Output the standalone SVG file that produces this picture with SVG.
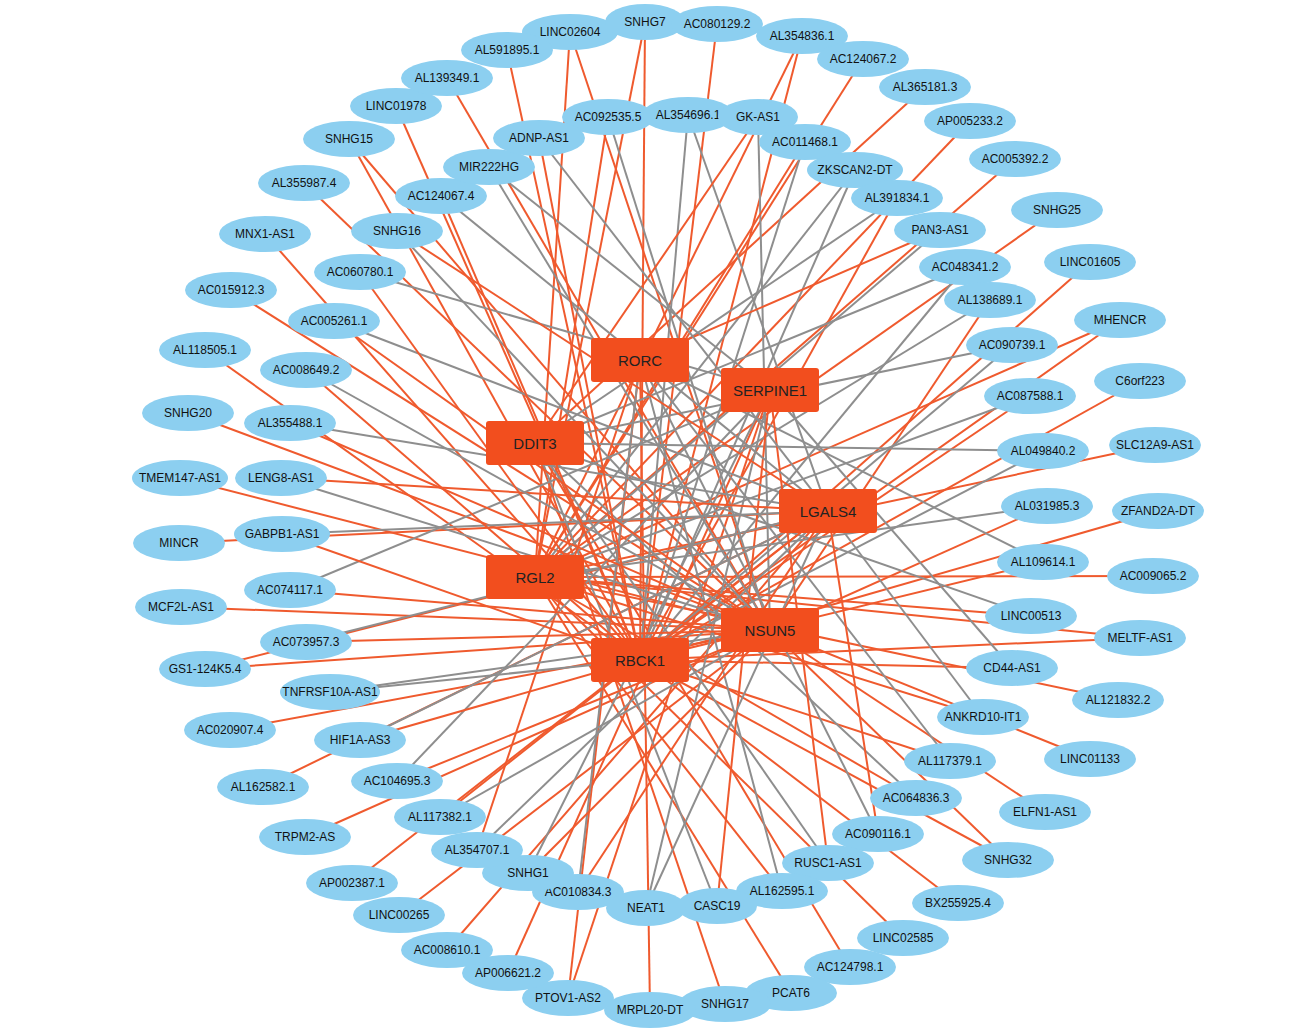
<svg xmlns="http://www.w3.org/2000/svg" width="1293" height="1035" viewBox="0 0 1293 1035">
<style>
.r{stroke:#ef5a2e;stroke-width:2}
.g{stroke:#8e8e8e;stroke-width:2}
.n ellipse{fill:#8ccff0}
.h rect{fill:#f24e1e}
text{font-family:"Liberation Sans",Arial,sans-serif;font-size:12px;fill:#111;text-anchor:middle;dominant-baseline:central}
.h text{font-size:15px;fill:#222}
</style>
<rect width="1293" height="1035" fill="#fff"/>
<g id="edges">
<line class="r" x1="570" y1="32" x2="535" y2="577"/><line class="r" x1="570" y1="32" x2="770" y2="630"/>
<line class="r" x1="645" y1="22" x2="640" y2="660"/><line class="r" x1="645" y1="22" x2="535" y2="577"/>
<line class="r" x1="717" y1="24" x2="640" y2="660"/>
<line class="r" x1="802" y1="36" x2="535" y2="577"/><line class="r" x1="802" y1="36" x2="640" y2="660"/>
<line class="r" x1="863" y1="59" x2="535" y2="577"/>
<line class="r" x1="925" y1="87" x2="535" y2="443"/>
<line class="r" x1="970" y1="121" x2="535" y2="577"/>
<line class="r" x1="1015" y1="159" x2="535" y2="577"/>
<line class="r" x1="1057" y1="210" x2="535" y2="577"/>
<line class="r" x1="1090" y1="262" x2="640" y2="660"/>
<line class="r" x1="1120" y1="320" x2="640" y2="660"/><line class="r" x1="1120" y1="320" x2="535" y2="577"/>
<line class="r" x1="1140" y1="381" x2="640" y2="660"/>
<line class="r" x1="1155" y1="445" x2="535" y2="577"/>
<line class="r" x1="1158" y1="511" x2="640" y2="660"/>
<line class="r" x1="1153" y1="576" x2="535" y2="577"/>
<line class="r" x1="1140" y1="638" x2="640" y2="660"/><line class="r" x1="1140" y1="638" x2="535" y2="577"/>
<line class="r" x1="1118" y1="700" x2="535" y2="577"/>
<line class="r" x1="1090" y1="759" x2="770" y2="630"/>
<line class="r" x1="1045" y1="812" x2="770" y2="630"/>
<line class="r" x1="1008" y1="860" x2="770" y2="630"/><line class="r" x1="1008" y1="860" x2="640" y2="660"/>
<line class="r" x1="958" y1="903" x2="640" y2="660"/>
<line class="r" x1="903" y1="938" x2="535" y2="577"/>
<line class="r" x1="850" y1="967" x2="535" y2="443"/>
<line class="r" x1="791" y1="993" x2="535" y2="577"/>
<line class="r" x1="725" y1="1004" x2="535" y2="443"/>
<line class="r" x1="650" y1="1010" x2="640" y2="360"/>
<line class="r" x1="568" y1="998" x2="770" y2="390"/><line class="r" x1="568" y1="998" x2="640" y2="360"/>
<line class="r" x1="508" y1="973" x2="770" y2="390"/>
<line class="r" x1="447" y1="950" x2="828" y2="511"/>
<line class="r" x1="399" y1="915" x2="770" y2="630"/>
<line class="r" x1="352" y1="883" x2="828" y2="511"/>
<line class="r" x1="305" y1="837" x2="770" y2="630"/>
<line class="r" x1="263" y1="787" x2="828" y2="511"/>
<line class="r" x1="230" y1="730" x2="770" y2="630"/>
<line class="r" x1="205" y1="669" x2="770" y2="630"/><line class="r" x1="205" y1="669" x2="828" y2="511"/>
<line class="r" x1="181" y1="607" x2="770" y2="630"/>
<line class="r" x1="179" y1="543" x2="828" y2="511"/>
<line class="r" x1="180" y1="478" x2="770" y2="630"/>
<line class="r" x1="188" y1="413" x2="770" y2="630"/>
<line class="r" x1="205" y1="350" x2="640" y2="660"/>
<line class="r" x1="231" y1="290" x2="770" y2="630"/>
<line class="r" x1="265" y1="234" x2="640" y2="660"/>
<line class="r" x1="304" y1="183" x2="770" y2="630"/>
<line class="r" x1="349" y1="139" x2="640" y2="660"/><line class="r" x1="349" y1="139" x2="770" y2="630"/>
<line class="r" x1="396" y1="106" x2="640" y2="660"/>
<line class="r" x1="447" y1="78" x2="770" y2="630"/>
<line class="r" x1="507" y1="50" x2="640" y2="660"/>
<line class="g" x1="608" y1="117" x2="770" y2="630"/><line class="r" x1="608" y1="117" x2="535" y2="577"/>
<line class="g" x1="688" y1="115" x2="640" y2="660"/><line class="g" x1="688" y1="115" x2="828" y2="511"/>
<line class="g" x1="758" y1="117" x2="770" y2="630"/><line class="r" x1="758" y1="117" x2="535" y2="443"/>
<line class="g" x1="805" y1="142" x2="640" y2="660"/><line class="r" x1="805" y1="142" x2="535" y2="577"/>
<line class="g" x1="855" y1="170" x2="535" y2="577"/><line class="g" x1="855" y1="170" x2="640" y2="660"/>
<line class="r" x1="897" y1="198" x2="640" y2="660"/><line class="g" x1="897" y1="198" x2="535" y2="443"/>
<line class="g" x1="940" y1="230" x2="535" y2="577"/><line class="r" x1="940" y1="230" x2="640" y2="360"/>
<line class="g" x1="965" y1="267" x2="640" y2="660"/><line class="g" x1="965" y1="267" x2="535" y2="443"/>
<line class="g" x1="990" y1="300" x2="535" y2="577"/><line class="r" x1="990" y1="300" x2="770" y2="630"/>
<line class="g" x1="1012" y1="345" x2="640" y2="660"/><line class="g" x1="1012" y1="345" x2="535" y2="443"/>
<line class="g" x1="1030" y1="396" x2="535" y2="577"/><line class="r" x1="1030" y1="396" x2="640" y2="660"/>
<line class="g" x1="1043" y1="451" x2="535" y2="443"/><line class="g" x1="1043" y1="451" x2="640" y2="660"/>
<line class="g" x1="1047" y1="506" x2="535" y2="577"/><line class="r" x1="1047" y1="506" x2="770" y2="630"/>
<line class="g" x1="1043" y1="562" x2="640" y2="360"/><line class="r" x1="1043" y1="562" x2="640" y2="660"/>
<line class="g" x1="1031" y1="616" x2="535" y2="443"/><line class="r" x1="1031" y1="616" x2="535" y2="577"/>
<line class="g" x1="1012" y1="668" x2="770" y2="390"/><line class="r" x1="1012" y1="668" x2="640" y2="660"/>
<line class="g" x1="983" y1="717" x2="828" y2="511"/><line class="r" x1="983" y1="717" x2="535" y2="577"/>
<line class="g" x1="950" y1="761" x2="640" y2="360"/><line class="r" x1="950" y1="761" x2="640" y2="660"/>
<line class="g" x1="916" y1="798" x2="535" y2="443"/><line class="r" x1="916" y1="798" x2="535" y2="577"/>
<line class="g" x1="878" y1="834" x2="640" y2="360"/><line class="r" x1="878" y1="834" x2="828" y2="511"/>
<line class="g" x1="828" y1="863" x2="535" y2="443"/><line class="r" x1="828" y1="863" x2="770" y2="390"/>
<line class="g" x1="782" y1="891" x2="640" y2="360"/><line class="r" x1="782" y1="891" x2="535" y2="577"/>
<line class="g" x1="717" y1="906" x2="535" y2="443"/><line class="r" x1="717" y1="906" x2="770" y2="390"/>
<line class="g" x1="646" y1="908" x2="770" y2="390"/><line class="g" x1="646" y1="908" x2="828" y2="511"/>
<line class="g" x1="578" y1="892" x2="640" y2="360"/><line class="r" x1="578" y1="892" x2="828" y2="511"/>
<line class="g" x1="528" y1="873" x2="770" y2="390"/><line class="r" x1="528" y1="873" x2="770" y2="630"/>
<line class="g" x1="477" y1="850" x2="828" y2="511"/><line class="r" x1="477" y1="850" x2="640" y2="360"/>
<line class="g" x1="440" y1="817" x2="770" y2="630"/><line class="r" x1="440" y1="817" x2="828" y2="511"/>
<line class="g" x1="397" y1="781" x2="770" y2="390"/><line class="r" x1="397" y1="781" x2="770" y2="630"/>
<line class="g" x1="360" y1="740" x2="828" y2="511"/><line class="r" x1="360" y1="740" x2="640" y2="660"/>
<line class="g" x1="330" y1="692" x2="770" y2="630"/><line class="g" x1="330" y1="692" x2="640" y2="660"/>
<line class="g" x1="306" y1="642" x2="828" y2="511"/><line class="r" x1="306" y1="642" x2="770" y2="630"/>
<line class="g" x1="290" y1="590" x2="770" y2="390"/><line class="r" x1="290" y1="590" x2="770" y2="630"/>
<line class="g" x1="282" y1="534" x2="828" y2="511"/><line class="r" x1="282" y1="534" x2="640" y2="660"/>
<line class="g" x1="281" y1="478" x2="770" y2="630"/><line class="r" x1="281" y1="478" x2="828" y2="511"/>
<line class="g" x1="290" y1="423" x2="828" y2="511"/><line class="r" x1="290" y1="423" x2="770" y2="630"/>
<line class="g" x1="306" y1="370" x2="770" y2="630"/><line class="r" x1="306" y1="370" x2="640" y2="660"/>
<line class="g" x1="334" y1="321" x2="828" y2="511"/><line class="r" x1="334" y1="321" x2="770" y2="630"/>
<line class="g" x1="360" y1="272" x2="770" y2="390"/><line class="r" x1="360" y1="272" x2="640" y2="660"/>
<line class="g" x1="397" y1="231" x2="770" y2="630"/><line class="r" x1="397" y1="231" x2="828" y2="511"/>
<line class="g" x1="441" y1="196" x2="828" y2="511"/><line class="r" x1="441" y1="196" x2="640" y2="660"/>
<line class="g" x1="489" y1="167" x2="770" y2="630"/><line class="g" x1="489" y1="167" x2="770" y2="390"/>
<line class="g" x1="539" y1="138" x2="828" y2="511"/><line class="r" x1="539" y1="138" x2="640" y2="660"/>
</g>
<g id="nodes" class="n">
<g id="n1"><ellipse cx="570" cy="32" rx="48" ry="18"/><text x="570" y="32">LINC02604</text></g>
<g id="n2"><ellipse cx="645" cy="22" rx="40" ry="18"/><text x="645" y="22">SNHG7</text></g>
<g id="n3"><ellipse cx="717" cy="24" rx="46" ry="18"/><text x="717" y="24">AC080129.2</text></g>
<g id="n4"><ellipse cx="802" cy="36" rx="46" ry="18"/><text x="802" y="36">AL354836.1</text></g>
<g id="n5"><ellipse cx="863" cy="59" rx="46" ry="18"/><text x="863" y="59">AC124067.2</text></g>
<g id="n6"><ellipse cx="925" cy="87" rx="46" ry="18"/><text x="925" y="87">AL365181.3</text></g>
<g id="n7"><ellipse cx="970" cy="121" rx="46" ry="18"/><text x="970" y="121">AP005233.2</text></g>
<g id="n8"><ellipse cx="1015" cy="159" rx="46" ry="18"/><text x="1015" y="159">AC005392.2</text></g>
<g id="n9"><ellipse cx="1057" cy="210" rx="46" ry="18"/><text x="1057" y="210">SNHG25</text></g>
<g id="n10"><ellipse cx="1090" cy="262" rx="46" ry="18"/><text x="1090" y="262">LINC01605</text></g>
<g id="n11"><ellipse cx="1120" cy="320" rx="46" ry="18"/><text x="1120" y="320">MHENCR</text></g>
<g id="n12"><ellipse cx="1140" cy="381" rx="46" ry="18"/><text x="1140" y="381">C6orf223</text></g>
<g id="n13"><ellipse cx="1155" cy="445" rx="46" ry="18"/><text x="1155" y="445">SLC12A9-AS1</text></g>
<g id="n14"><ellipse cx="1158" cy="511" rx="46" ry="18"/><text x="1158" y="511">ZFAND2A-DT</text></g>
<g id="n15"><ellipse cx="1153" cy="576" rx="46" ry="18"/><text x="1153" y="576">AC009065.2</text></g>
<g id="n16"><ellipse cx="1140" cy="638" rx="46" ry="18"/><text x="1140" y="638">MELTF-AS1</text></g>
<g id="n17"><ellipse cx="1118" cy="700" rx="46" ry="18"/><text x="1118" y="700">AL121832.2</text></g>
<g id="n18"><ellipse cx="1090" cy="759" rx="46" ry="18"/><text x="1090" y="759">LINC01133</text></g>
<g id="n19"><ellipse cx="1045" cy="812" rx="46" ry="18"/><text x="1045" y="812">ELFN1-AS1</text></g>
<g id="n20"><ellipse cx="1008" cy="860" rx="46" ry="18"/><text x="1008" y="860">SNHG32</text></g>
<g id="n21"><ellipse cx="958" cy="903" rx="46" ry="18"/><text x="958" y="903">BX255925.4</text></g>
<g id="n22"><ellipse cx="903" cy="938" rx="46" ry="18"/><text x="903" y="938">LINC02585</text></g>
<g id="n23"><ellipse cx="850" cy="967" rx="46" ry="18"/><text x="850" y="967">AC124798.1</text></g>
<g id="n24"><ellipse cx="791" cy="993" rx="46" ry="18"/><text x="791" y="993">PCAT6</text></g>
<g id="n25"><ellipse cx="725" cy="1004" rx="46" ry="18"/><text x="725" y="1004">SNHG17</text></g>
<g id="n26"><ellipse cx="650" cy="1010" rx="46" ry="18"/><text x="650" y="1010">MRPL20-DT</text></g>
<g id="n27"><ellipse cx="568" cy="998" rx="46" ry="18"/><text x="568" y="998">PTOV1-AS2</text></g>
<g id="n28"><ellipse cx="508" cy="973" rx="46" ry="18"/><text x="508" y="973">AP006621.2</text></g>
<g id="n29"><ellipse cx="447" cy="950" rx="46" ry="18"/><text x="447" y="950">AC008610.1</text></g>
<g id="n30"><ellipse cx="399" cy="915" rx="46" ry="18"/><text x="399" y="915">LINC00265</text></g>
<g id="n31"><ellipse cx="352" cy="883" rx="46" ry="18"/><text x="352" y="883">AP002387.1</text></g>
<g id="n32"><ellipse cx="305" cy="837" rx="46" ry="18"/><text x="305" y="837">TRPM2-AS</text></g>
<g id="n33"><ellipse cx="263" cy="787" rx="46" ry="18"/><text x="263" y="787">AL162582.1</text></g>
<g id="n34"><ellipse cx="230" cy="730" rx="46" ry="18"/><text x="230" y="730">AC020907.4</text></g>
<g id="n35"><ellipse cx="205" cy="669" rx="46" ry="18"/><text x="205" y="669">GS1-124K5.4</text></g>
<g id="n36"><ellipse cx="181" cy="607" rx="46" ry="18"/><text x="181" y="607">MCF2L-AS1</text></g>
<g id="n37"><ellipse cx="179" cy="543" rx="46" ry="18"/><text x="179" y="543">MINCR</text></g>
<g id="n38"><ellipse cx="180" cy="478" rx="48" ry="18"/><text x="180" y="478">TMEM147-AS1</text></g>
<g id="n39"><ellipse cx="188" cy="413" rx="46" ry="18"/><text x="188" y="413">SNHG20</text></g>
<g id="n40"><ellipse cx="205" cy="350" rx="46" ry="18"/><text x="205" y="350">AL118505.1</text></g>
<g id="n41"><ellipse cx="231" cy="290" rx="46" ry="18"/><text x="231" y="290">AC015912.3</text></g>
<g id="n42"><ellipse cx="265" cy="234" rx="46" ry="18"/><text x="265" y="234">MNX1-AS1</text></g>
<g id="n43"><ellipse cx="304" cy="183" rx="46" ry="18"/><text x="304" y="183">AL355987.4</text></g>
<g id="n44"><ellipse cx="349" cy="139" rx="46" ry="18"/><text x="349" y="139">SNHG15</text></g>
<g id="n45"><ellipse cx="396" cy="106" rx="46" ry="18"/><text x="396" y="106">LINC01978</text></g>
<g id="n46"><ellipse cx="447" cy="78" rx="46" ry="18"/><text x="447" y="78">AL139349.1</text></g>
<g id="n47"><ellipse cx="507" cy="50" rx="46" ry="18"/><text x="507" y="50">AL591895.1</text></g>
<g id="i1"><ellipse cx="608" cy="117" rx="46" ry="18"/><text x="608" y="117">AC092535.5</text></g>
<g id="i2"><ellipse cx="688" cy="115" rx="46" ry="18"/><text x="688" y="115">AL354696.1</text></g>
<g id="i3"><ellipse cx="758" cy="117" rx="40" ry="18"/><text x="758" y="117">GK-AS1</text></g>
<g id="i4"><ellipse cx="805" cy="142" rx="46" ry="18"/><text x="805" y="142">AC011468.1</text></g>
<g id="i5"><ellipse cx="855" cy="170" rx="48" ry="18"/><text x="855" y="170">ZKSCAN2-DT</text></g>
<g id="i6"><ellipse cx="897" cy="198" rx="46" ry="18"/><text x="897" y="198">AL391834.1</text></g>
<g id="i7"><ellipse cx="940" cy="230" rx="46" ry="18"/><text x="940" y="230">PAN3-AS1</text></g>
<g id="i8"><ellipse cx="965" cy="267" rx="46" ry="18"/><text x="965" y="267">AC048341.2</text></g>
<g id="i9"><ellipse cx="990" cy="300" rx="46" ry="18"/><text x="990" y="300">AL138689.1</text></g>
<g id="i10"><ellipse cx="1012" cy="345" rx="46" ry="18"/><text x="1012" y="345">AC090739.1</text></g>
<g id="i11"><ellipse cx="1030" cy="396" rx="46" ry="18"/><text x="1030" y="396">AC087588.1</text></g>
<g id="i12"><ellipse cx="1043" cy="451" rx="46" ry="18"/><text x="1043" y="451">AL049840.2</text></g>
<g id="i13"><ellipse cx="1047" cy="506" rx="46" ry="18"/><text x="1047" y="506">AL031985.3</text></g>
<g id="i14"><ellipse cx="1043" cy="562" rx="46" ry="18"/><text x="1043" y="562">AL109614.1</text></g>
<g id="i15"><ellipse cx="1031" cy="616" rx="46" ry="18"/><text x="1031" y="616">LINC00513</text></g>
<g id="i16"><ellipse cx="1012" cy="668" rx="46" ry="18"/><text x="1012" y="668">CD44-AS1</text></g>
<g id="i17"><ellipse cx="983" cy="717" rx="46" ry="18"/><text x="983" y="717">ANKRD10-IT1</text></g>
<g id="i18"><ellipse cx="950" cy="761" rx="46" ry="18"/><text x="950" y="761">AL117379.1</text></g>
<g id="i19"><ellipse cx="916" cy="798" rx="46" ry="18"/><text x="916" y="798">AC064836.3</text></g>
<g id="i20"><ellipse cx="878" cy="834" rx="46" ry="18"/><text x="878" y="834">AC090116.1</text></g>
<g id="i21"><ellipse cx="828" cy="863" rx="46" ry="18"/><text x="828" y="863">RUSC1-AS1</text></g>
<g id="i22"><ellipse cx="782" cy="891" rx="46" ry="18"/><text x="782" y="891">AL162595.1</text></g>
<g id="i23"><ellipse cx="717" cy="906" rx="40" ry="18"/><text x="717" y="906">CASC19</text></g>
<g id="i24"><ellipse cx="578" cy="892" rx="46" ry="18"/><text x="578" y="892">AC010834.3</text></g>
<g id="i25"><ellipse cx="646" cy="908" rx="40" ry="18"/><text x="646" y="908">NEAT1</text></g>
<g id="i26"><ellipse cx="528" cy="873" rx="46" ry="18"/><text x="528" y="873">SNHG1</text></g>
<g id="i27"><ellipse cx="477" cy="850" rx="46" ry="18"/><text x="477" y="850">AL354707.1</text></g>
<g id="i28"><ellipse cx="440" cy="817" rx="46" ry="18"/><text x="440" y="817">AL117382.1</text></g>
<g id="i29"><ellipse cx="397" cy="781" rx="46" ry="18"/><text x="397" y="781">AC104695.3</text></g>
<g id="i30"><ellipse cx="360" cy="740" rx="46" ry="18"/><text x="360" y="740">HIF1A-AS3</text></g>
<g id="i31"><ellipse cx="330" cy="692" rx="50" ry="18"/><text x="330" y="692">TNFRSF10A-AS1</text></g>
<g id="i32"><ellipse cx="306" cy="642" rx="46" ry="18"/><text x="306" y="642">AC073957.3</text></g>
<g id="i33"><ellipse cx="290" cy="590" rx="46" ry="18"/><text x="290" y="590">AC074117.1</text></g>
<g id="i34"><ellipse cx="282" cy="534" rx="48" ry="18"/><text x="282" y="534">GABPB1-AS1</text></g>
<g id="i35"><ellipse cx="281" cy="478" rx="46" ry="18"/><text x="281" y="478">LENG8-AS1</text></g>
<g id="i36"><ellipse cx="290" cy="423" rx="46" ry="18"/><text x="290" y="423">AL355488.1</text></g>
<g id="i37"><ellipse cx="306" cy="370" rx="46" ry="18"/><text x="306" y="370">AC008649.2</text></g>
<g id="i38"><ellipse cx="334" cy="321" rx="46" ry="18"/><text x="334" y="321">AC005261.1</text></g>
<g id="i39"><ellipse cx="360" cy="272" rx="46" ry="18"/><text x="360" y="272">AC060780.1</text></g>
<g id="i40"><ellipse cx="397" cy="231" rx="46" ry="18"/><text x="397" y="231">SNHG16</text></g>
<g id="i41"><ellipse cx="441" cy="196" rx="46" ry="18"/><text x="441" y="196">AC124067.4</text></g>
<g id="i42"><ellipse cx="489" cy="167" rx="46" ry="18"/><text x="489" y="167">MIR222HG</text></g>
<g id="i43"><ellipse cx="539" cy="138" rx="46" ry="18"/><text x="539" y="138">ADNP-AS1</text></g>
</g>
<g id="hubs" class="h">
<g id="RORC"><rect x="591" y="338" width="98" height="44" rx="3"/><text x="640" y="360">RORC</text></g>
<g id="SERPINE1"><rect x="721" y="368" width="98" height="44" rx="3"/><text x="770" y="390">SERPINE1</text></g>
<g id="DDIT3"><rect x="486" y="421" width="98" height="44" rx="3"/><text x="535" y="443">DDIT3</text></g>
<g id="LGALS4"><rect x="779" y="489" width="98" height="44" rx="3"/><text x="828" y="511">LGALS4</text></g>
<g id="RGL2"><rect x="486" y="555" width="98" height="44" rx="3"/><text x="535" y="577">RGL2</text></g>
<g id="NSUN5"><rect x="721" y="608" width="98" height="44" rx="3"/><text x="770" y="630">NSUN5</text></g>
<g id="RBCK1"><rect x="591" y="638" width="98" height="44" rx="3"/><text x="640" y="660">RBCK1</text></g>
</g>
</svg>
